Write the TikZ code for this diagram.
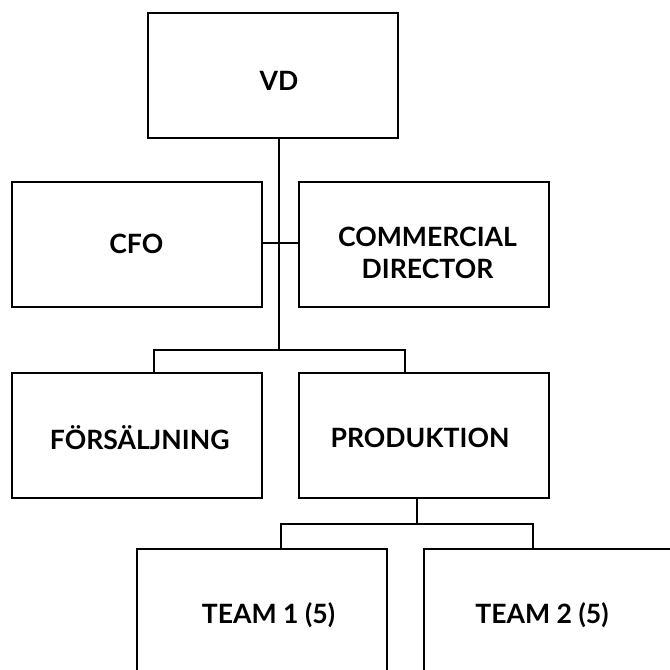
\documentclass[tikz,border=0pt]{standalone}
\usepackage{fontspec}
\setmainfont{Lato}[BoldFont={Lato Bold}]
\begin{document}
\begin{tikzpicture}[x=1pt,y=-1pt,
  box/.style={draw=black,line width=2pt,rectangle,inner sep=0pt,minimum width=250pt,minimum height=125pt,fill=white},
  lbl/.style={font=\fontsize{26.6}{32}\selectfont\bfseries,align=center,inner sep=0pt},
  conn/.style={draw=black,line width=2pt}]
\useasboundingbox (0,0) rectangle (670,670);
\clip (0,0) rectangle (670,670);
\node[box] (vd) at (272.5,75.5) {};
\node[box] (cfo) at (136.5,244.2) {};
\node[box] (com) at (423.7,244.2) {};
\node[box] (for) at (136.7,435.6) {};
\node[box] (pro) at (423.7,435.8) {};
\node[box] (t1) at (262,611.8) {};
\node[box] (t2) at (549,611.8) {};
\node[lbl] (vdt) at (279,81) {VD};
\node[lbl] (cfot) at (136.3,244) {CFO};
\node[lbl] (comt) at (427.5,253) {COMMERCIAL\\DIRECTOR};
\node[lbl] (fort) at (139.7,437.5) {FÖRSÄLJNING};
\node[lbl] (prot) at (420,437.8) {PRODUKTION};
\node[lbl] (t1t) at (268.5,615) {TEAM 1 (5)};
\node[lbl] (t2t) at (542,615) {TEAM 2 (5)};
\coordinate (sp) at (279.3,350);
\coordinate (fa) at (154.3,350);
\coordinate (pa) at (405,350);
\coordinate (tj) at (416.7,524);
\coordinate (ta) at (280.7,524);
\coordinate (tb) at (532.7,524);
\draw[conn] (vd.south -| sp) -- (sp);
\draw[conn] (cfo.east |- 0,243.3) -- (com.west |- 0,243.3);
\draw[conn] (for.north -| fa) -- (fa) -- (pa) -- (pro.north -| pa);
\draw[conn] (pro.south -| tj) -- (tj);
\draw[conn] (t1.north -| ta) -- (ta) -- (tb) -- (t2.north -| tb);
\end{tikzpicture}
\end{document}
